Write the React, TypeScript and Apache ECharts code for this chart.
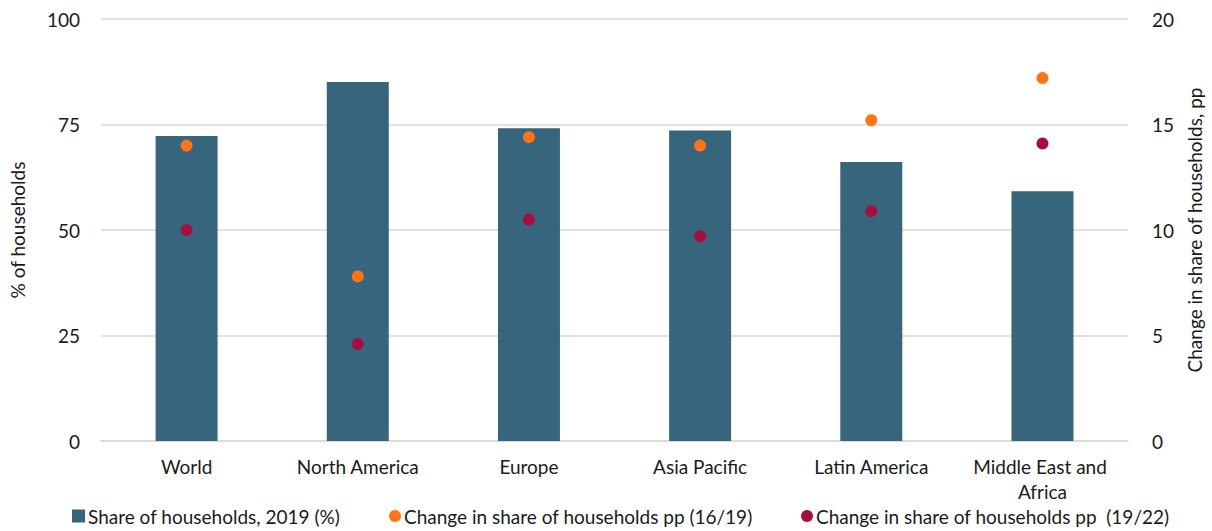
import React, { useEffect, useRef } from "react";
import * as echarts from "echarts";

const categories = ["World", "North America", "Europe", "Asia Pacific", "Latin America", "Middle East and Africa"];
const shareHouseholds2019 = [72.3, 85.1, 74.1, 73.6, 66.1, 59.2];
const change1619 = [14.0, 7.8, 14.4, 14.0, 15.2, 17.2];
const change1922 = [10.0, 4.6, 10.5, 9.7, 10.9, 14.1];
const leftTicks = [0, 25, 50, 75, 100];
const rightTicks = [0, 5, 10, 15, 20];

const FONT = "Lato, 'Open Sans', sans-serif";
const BAR = "#36657c";
const ORANGE = "#ff7417";
const RED = "#a50f3f";

export default function App() {
  const ref = useRef<HTMLDivElement>(null);
  useEffect(() => {
    document.body.style.margin = "0";
    const chart = echarts.init(ref.current!, null, { renderer: "svg" });
    const textStyle = { fontFamily: FONT, fontSize: 19, color: "#1a1a1a" };
    const legendText = { ...textStyle, lineHeight: 20, padding: [0, 0, 0, -2] };
    chart.setOption({
      animation: false,
      textStyle: { fontFamily: FONT },
      grid: { left: 101, right: 73, top: 19, bottom: 90, containLabel: false },
      legend: [
        {
          left: 72, top: 506, padding: 0, itemWidth: 13, itemHeight: 13, itemGap: 4,
          textStyle: legendText,
          data: [{ name: "Share of households, 2019 (%)", icon: "rect" }],
        },
        {
          left: 389, top: 506, padding: 0, itemWidth: 12, itemHeight: 12,
          textStyle: legendText,
          data: [{ name: "Change in share of households pp (16/19)", icon: "circle" }],
        },
        {
          left: 801, top: 506, padding: 0, itemWidth: 12, itemHeight: 12,
          textStyle: legendText,
          data: [{ name: "Change in share of households pp  (19/22)", icon: "circle" }],
        },
      ],
      xAxis: {
        type: "category",
        data: categories,
        axisLine: { show: true, lineStyle: { color: "#d9d9d9", width: 1.5 } },
        axisTick: { show: false },
        axisLabel: {
          ...textStyle,
          margin: 13,
          lineHeight: 25,
          width: 150,
          overflow: "break",
          interval: 0,
        },
      },
      yAxis: [
        {
          type: "value",
          min: leftTicks[0],
          max: leftTicks[leftTicks.length - 1],
          interval: leftTicks[1] - leftTicks[0],
          name: "% of households",
          nameLocation: "middle",
          nameGap: 74,
          nameTextStyle: { ...textStyle },
          axisLine: { show: false },
          axisTick: { show: false },
          axisLabel: { ...textStyle, margin: 21 },
          splitLine: { lineStyle: { color: "#d9d9d9", width: 1.5 } },
        },
        {
          type: "value",
          min: rightTicks[0],
          max: rightTicks[rightTicks.length - 1],
          interval: rightTicks[1] - rightTicks[0],
          name: "Change in share of households, pp",
          nameLocation: "middle",
          nameGap: 44,
          nameTextStyle: { ...textStyle },
          axisLine: { show: false },
          axisTick: { show: false },
          axisLabel: { ...textStyle, margin: 24 },
          splitLine: { show: false },
        },
      ],
      series: [
        {
          name: "Share of households, 2019 (%)",
          type: "bar",
          data: shareHouseholds2019,
          barWidth: 62,
          itemStyle: { color: BAR },
          yAxisIndex: 0,
        },
        {
          name: "Change in share of households pp (16/19)",
          type: "scatter",
          data: change1619,
          yAxisIndex: 1,
          symbolSize: 12,
          itemStyle: { color: ORANGE, opacity: 1 },
        },
        {
          name: "Change in share of households pp  (19/22)",
          type: "scatter",
          data: change1922,
          yAxisIndex: 1,
          symbolSize: 12,
          itemStyle: { color: RED, opacity: 1 },
        },
      ],
    });
    return () => chart.dispose();
  }, []);
  return <div ref={ref} style={{ width: 1212, height: 531 }} />;
}
